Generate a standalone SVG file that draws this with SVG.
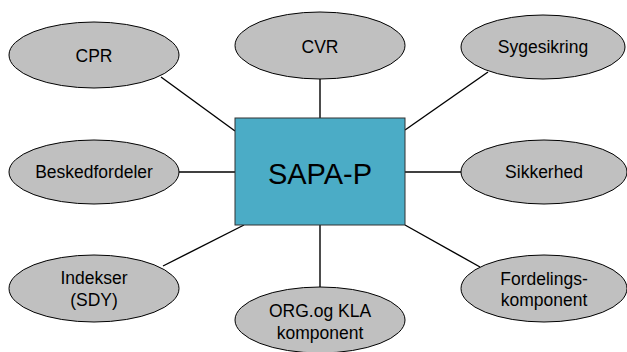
<svg xmlns="http://www.w3.org/2000/svg" width="627" height="352" viewBox="0 0 627 352">
<style>
.n ellipse{fill:#C0C0C0;stroke:#000;stroke-width:1}
.t{font-family:"Liberation Sans",Arial,sans-serif;font-size:17.5px;fill:#000;text-anchor:middle}
#connectors line{stroke:#000;stroke-width:1.4}
</style>
<rect width="627" height="352" fill="#fff"/>
<g id="connectors">
<line x1="161" y1="77" x2="235" y2="131"/>
<line x1="320" y1="79" x2="320" y2="118"/>
<line x1="488" y1="72" x2="405" y2="130"/>
<line x1="179" y1="172" x2="235" y2="172"/>
<line x1="405" y1="172" x2="461" y2="172"/>
<line x1="163" y1="266" x2="244" y2="225"/>
<line x1="320" y1="225" x2="320" y2="288"/>
<line x1="405" y1="225" x2="480" y2="267"/>
</g>
<g id="sapa">
<rect x="235" y="118" width="170" height="107" fill="#4BACC6" stroke="#333" stroke-width="1"/>
<text x="320" y="184" style="font-family:'Liberation Sans',Arial,sans-serif;font-size:29px;text-anchor:middle;fill:#000">SAPA-P</text>
</g>
<g id="cpr" class="n"><ellipse cx="94" cy="55" rx="85" ry="33"/><text class="t" x="94" y="62">CPR</text></g>
<g id="cvr" class="n"><ellipse cx="320" cy="45.5" rx="85" ry="33.5"/><text class="t" x="320" y="53">CVR</text></g>
<g id="sygesikring" class="n"><ellipse cx="543" cy="47" rx="82" ry="32"/><text class="t" x="543" y="53">Sygesikring</text></g>
<g id="beskedfordeler" class="n"><ellipse cx="94" cy="172" rx="85" ry="32"/><text class="t" x="94" y="178">Beskedfordeler</text></g>
<g id="sikkerhed" class="n"><ellipse cx="544" cy="172" rx="83" ry="32"/><text class="t" x="544" y="178">Sikkerhed</text></g>
<g id="indekser" class="n"><ellipse cx="94" cy="288.5" rx="85" ry="33.5"/><text class="t" x="94" y="284">Indekser</text><text class="t" x="94" y="306">(SDY)</text></g>
<g id="orgkla" class="n"><ellipse cx="320" cy="320" rx="85" ry="33"/><text class="t" x="320" y="317">ORG.og KLA</text><text class="t" x="320" y="339">komponent</text></g>
<g id="fordelings" class="n"><ellipse cx="544" cy="288.5" rx="83" ry="33.5"/><text class="t" x="544" y="285">Fordelings-</text><text class="t" x="544" y="306">komponent</text></g>
</svg>
